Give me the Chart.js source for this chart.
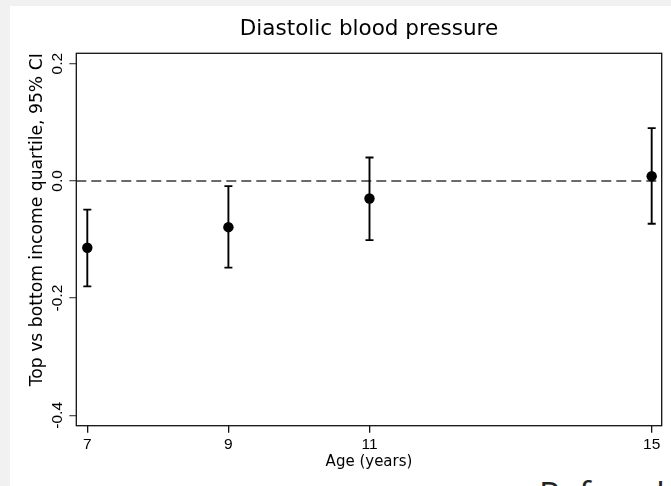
<!DOCTYPE html>
<html><head><meta charset="utf-8">
<script src="https://cdn.jsdelivr.net/npm/chart.js@4/dist/chart.umd.min.js"></script>
<style>
html,body{margin:0;padding:0;width:671px;height:486px;overflow:hidden;background:#f1f1f1;}
#panel{position:absolute;left:10px;top:6px;width:661px;height:480px;background:#fff;}
#next{position:absolute;left:539px;top:477px;font-family:'Open Sans';font-size:34px;line-height:34px;color:#222;white-space:nowrap;}
#wrap{position:absolute;left:0;top:0;width:671px;height:486px;}
</style></head><body>
<div id="panel"></div>
<div id="next">Referral</div>
<div id="wrap"><canvas id="c" width="671" height="486"></canvas></div>
<script>
const ages = [7, 9, 11, 15];
const estimates = [-0.114, -0.079, -0.030, 0.008];
const ciLower = [-0.180, -0.148, -0.101, -0.073];
const ciUpper = [-0.049, -0.009, 0.040, 0.090];
const xTicks = [7, 9, 11, 15];
const yTicks = [-0.4, -0.2, 0, 0.2];
const yTickLabels = ['-0.4', '-0.2', '0.0', '0.2'];
const referenceValue = 0;

const pointData = ages.map((a, i) => ({x: a, y: estimates[i]}));
const errorBarSets = ages.map((a, i) => ({
  type: 'line',
  data: [{x: a, y: ciLower[i]}, {x: a, y: ciUpper[i]}],
  borderColor: '#000', borderWidth: 1.9, showLine: true, fill: false,
  pointStyle: 'line', pointRadius: 4, pointHoverRadius: 4,
  pointBorderWidth: 1.9, pointBorderColor: '#000', pointBackgroundColor: '#000',
  order: 2
}));

const framePlugin = {
  id: 'frame',
  afterLayout(chart) {
    const t = chart.titleBlock;
    if (t) { t.left = chart.chartArea.left; t.right = chart.chartArea.right; t.width = t.right - t.left; }
  },
  beforeDatasetsDraw(chart) {
    const {ctx, chartArea: a, scales} = chart;
    const y0 = scales.y.getPixelForValue(referenceValue);
    ctx.save();
    ctx.strokeStyle = '#3a3a3a';
    ctx.lineWidth = 1.5;
    ctx.setLineDash([10, 5]);
    ctx.beginPath(); ctx.moveTo(a.left, y0); ctx.lineTo(a.right, y0); ctx.stroke();
    ctx.setLineDash([]);
    ctx.strokeStyle = '#111';
    ctx.lineWidth = 1.3;
    ctx.strokeRect(a.left, a.top, a.right - a.left, a.bottom - a.top);
    ctx.restore();
  }
};

Chart.defaults.font.family = "'Liberation Sans', Arial, sans-serif";
Chart.defaults.color = '#000';

new Chart(document.getElementById('c'), {
  type: 'scatter',
  data: {
    datasets: [
      {
        data: pointData, pointStyle: 'circle', pointRadius: 5.2, pointHoverRadius: 5.2,
        backgroundColor: '#000', borderColor: '#000', pointBorderWidth: 0, showLine: false, order: 1
      },
      ...errorBarSets
    ]
  },
  options: {
    responsive: false,
    devicePixelRatio: 1,
    animation: false,
    events: [],
    layout: {padding: {left: 0, right: 9.3, top: 0, bottom: 0}},
    plugins: {
      legend: {display: false},
      tooltip: {enabled: false},
      title: {
        display: true, text: 'Diastolic blood pressure', color: '#000',
        font: {family: "'DejaVu Sans', sans-serif", size: 21.5, weight: 'normal', lineHeight: 1.2},
        padding: {top: 16.6, bottom: 10.9}
      }
    },
    scales: {
      x: {
        type: 'linear', min: 6.844, max: 15.142,
        afterBuildTicks: s => { s.ticks = xTicks.map(v => ({value: v})); },
        afterFit: s => { s.height = 60.3; },
        grid: {drawOnChartArea: false, drawTicks: true, tickLength: 7, color: '#111', lineWidth: 1.3},
        border: {display: false},
        ticks: {font: {size: 15.5}, padding: 3, maxRotation: 0, autoSkip: false, callback: v => String(v)},
        title: {display: true, text: 'Age (years)', font: {family: "'DejaVu Sans', sans-serif", size: 15}, padding: {top: 0, bottom: 14.5}}
      },
      y: {
        type: 'linear', min: -0.4177, max: 0.2177,
        afterBuildTicks: s => { s.ticks = yTicks.map(v => ({value: v})); },
        afterFit: s => { s.width = 76.3; },
        grid: {drawOnChartArea: false, drawTicks: true, tickLength: 7, color: '#555', lineWidth: 1.3},
        border: {display: false},
        ticks: {
          font: {size: 15.5}, padding: -1.5, minRotation: 90, maxRotation: 90, crossAlign: 'center', autoSkip: false,
          callback: (v) => { const i = yTicks.findIndex(t => Math.abs(t - v) < 1e-9); return i >= 0 ? yTickLabels[i] : ''; }
        },
        title: {display: true, text: 'Top vs bottom income quartile, 95% CI', align: 'end',
          font: {family: "'DejaVu Sans', sans-serif", size: 17.2}, padding: {top: 27.2, bottom: 0}}
      }
    }
  },
  plugins: [framePlugin]
});
</script>
</body></html>
